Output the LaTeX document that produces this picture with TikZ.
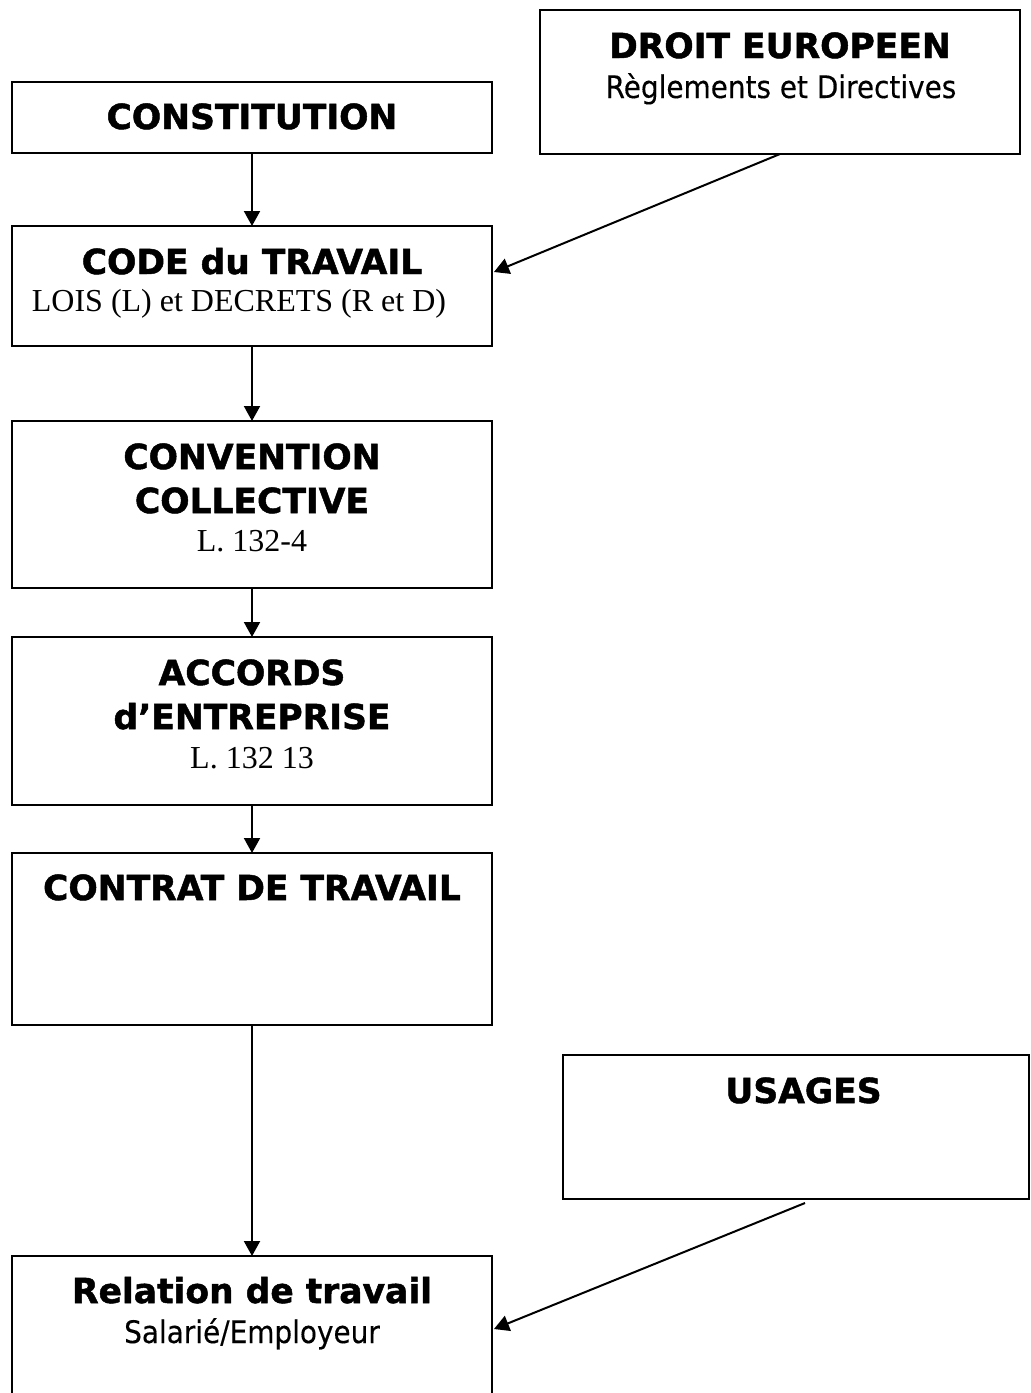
\documentclass[tikz,border=0pt]{standalone}
\usepackage{fontspec}
\usetikzlibrary{arrows.meta}
\newfontfamily\tah[BoldFeatures={FakeBold=1.4}]{DejaVu Sans}
\newfontfamily\tahr[FakeStretch=0.9,FakeBold=0.3]{DejaVu Sans}
\newfontfamily\tms{Liberation Serif}
\tikzset{
  box/.style={draw, line width=2pt, rectangle, anchor=north west, inner sep=0pt, outer sep=0pt},
  ttl/.style={anchor=base, inner sep=0pt, font=\tah\bfseries\fontsize{34.5}{40}\selectfont},
  sub/.style={anchor=base, inner sep=0pt, font=\tahr\fontsize{31}{36}\selectfont},
  tim/.style={anchor=base, inner sep=0pt, font=\tms\fontsize{32}{38}\selectfont},
  arr/.style={line width=2pt, -{Triangle[width=16pt,length=15pt]}}
}
\begin{document}
\begin{tikzpicture}[x=1pt,y=-1pt]
\useasboundingbox (0,0) rectangle (1031,1393);
% boxes
\node[box, minimum width=480pt, minimum height=71pt] (const) at (12,82) {};
\node[box, minimum width=480pt, minimum height=144pt] (droit) at (540,10) {};
\node[box, minimum width=480pt, minimum height=120pt] (code) at (12,226) {};
\node[box, minimum width=480pt, minimum height=167pt] (conv) at (12,421) {};
\node[box, minimum width=480pt, minimum height=168pt] (acc) at (12,637) {};
\node[box, minimum width=480pt, minimum height=172pt] (contrat) at (12,853) {};
\node[box, minimum width=466pt, minimum height=144pt] (usages) at (563,1055) {};
\node[box, minimum width=480pt, minimum height=146pt] (rel) at (12,1256) {};
% texts
\node[ttl] (t1) at (252,129) {CONSTITUTION};
\node[ttl] (t2) at (780,58) {DROIT EUROPEEN};
\node[sub] (t3) at (781,98) {Règlements et Directives};
\node[ttl] (t4) at (252,274) {CODE du TRAVAIL};
\node[tim] (t5) at (239,311) {LOIS (L) et DECRETS (R et D)};
\node[ttl] (t6) at (252,469) {CONVENTION};
\node[ttl] (t7) at (252,513) {COLLECTIVE};
\node[tim] (t8) at (252,551) {L. 132-4};
\node[ttl] (t9) at (252,685) {ACCORDS};
\node[ttl] (t10) at (252,729) {d’ENTREPRISE};
\node[tim] (t11) at (252,768) {L. 132 13};
\node[ttl] (t12) at (252,900) {CONTRAT DE TRAVAIL};
\node[ttl] (t13) at (803.5,1103) {USAGES};
\node[ttl] (t14) at (252,1303) {Relation de travail};
\node[sub] (t15) at (252,1343) {Salarié/Employeur};
% connectors
\draw[arr] (const.south) -- (code.north);
\draw[arr] (code.south) -- (conv.north);
\draw[arr] (conv.south) -- (acc.north);
\draw[arr] (acc.south) -- (contrat.north);
\draw[arr] (contrat.south) -- (rel.north);
\draw[arr] (droit.south) -- ([xshift=2pt,yshift=14pt]code.east);
\draw[arr] ([xshift=9pt,yshift=-4pt]usages.south) -- ([xshift=2pt]rel.east);
\end{tikzpicture}
\end{document}
